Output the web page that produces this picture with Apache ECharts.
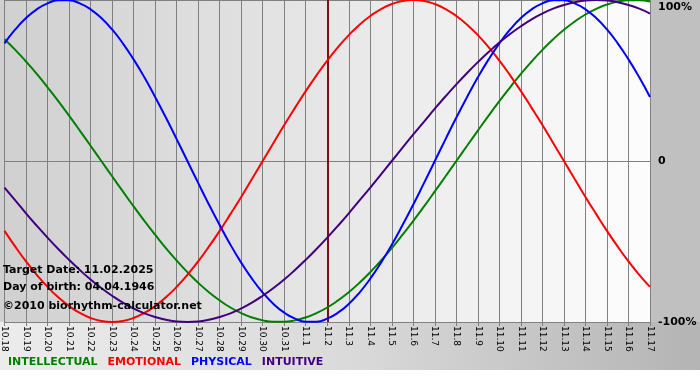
<!DOCTYPE html>
<html><head><meta charset="utf-8">
<script src="https://cdn.jsdelivr.net/npm/echarts@6/dist/echarts.min.js"></script>
<style>html,body{margin:0;padding:0;background:#fff}#c{width:700px;height:380px}</style>
</head><body><div id="c"></div>
<script>
// tick labels (one per day)
const days = ['10.18','10.19','10.20','10.21','10.22','10.23','10.24','10.25','10.26','10.27','10.28','10.29','10.30','10.31',
  '11.1','11.2','11.3','11.4','11.5','11.6','11.7','11.8','11.9','11.10','11.11','11.12','11.13','11.14','11.15','11.16','11.17'];
// curve values, in percent, read every half day from 10.18 to 11.17
const intellectual = [75.6, 69.0, 61.8, 54.1, 45.8, 37.2, 28.2, 18.9, 9.5, 0, -9.5, -18.9, -28.2, -37.2, -45.8, -54.1, -61.8, -69.0, -75.6, -81.5,
  -86.6, -91.0, -94.5, -97.2, -99.0, -99.9, -99.9, -99.0, -97.2, -94.5, -91.0, -86.6, -81.5, -75.6, -69.0, -61.8, -54.1, -45.8, -37.2, -28.2,
  -18.9, -9.5, 0, 9.5, 18.9, 28.2, 37.2, 45.8, 54.1, 61.8, 69.0, 75.6, 81.5, 86.6, 91.0, 94.5, 97.2, 99.0, 99.9, 99.9, 99.0];
const emotional = [-43.4, -53.2, -62.4, -70.7, -78.2, -84.7, -90.1, -94.4, -97.5, -99.4, -100, -99.4, -97.5, -94.4, -90.1, -84.7, -78.2, -70.7, -62.4, -53.2,
  -43.4, -33.0, -22.3, -11.2, 0, 11.2, 22.3, 33.0, 43.4, 53.2, 62.4, 70.7, 78.2, 84.7, 90.1, 94.4, 97.5, 99.4, 100, 99.4,
  97.5, 94.4, 90.1, 84.7, 78.2, 70.7, 62.4, 53.2, 43.4, 33.0, 22.3, 11.2, 0, -11.2, -22.3, -33.0, -43.4, -53.2, -62.4, -70.7, -78.2];
const physical = [73.1, 81.7, 88.8, 94.2, 97.9, 99.8, 99.8, 97.9, 94.2, 88.8, 81.7, 73.1, 63.1, 52.0, 39.8, 27.0, 13.6, 0, -13.6, -27.0,
  -39.8, -52.0, -63.1, -73.1, -81.7, -88.8, -94.2, -97.9, -99.8, -99.8, -97.9, -94.2, -88.8, -81.7, -73.1, -63.1, -52.0, -39.8, -27.0, -13.6,
  0, 13.6, 27.0, 39.8, 52.0, 63.1, 73.1, 81.7, 88.8, 94.2, 97.9, 99.8, 99.8, 97.9, 94.2, 88.8, 81.7, 73.1, 63.1, 52.0, 39.8];
const intuitive = [-16.5, -24.5, -32.5, -40.2, -47.6, -54.7, -61.4, -67.7, -73.6, -78.9, -83.7, -88.0, -91.6, -94.6, -96.9, -98.6, -99.7, -100, -99.7, -98.6,
  -96.9, -94.6, -91.6, -88.0, -83.7, -78.9, -73.6, -67.7, -61.4, -54.7, -47.6, -40.2, -32.5, -24.5, -16.5, -8.3, 0, 8.3, 16.5, 24.5,
  32.5, 40.2, 47.6, 54.7, 61.4, 67.7, 73.6, 78.9, 83.7, 88.0, 91.6, 94.6, 96.9, 98.6, 99.7, 100, 99.7, 98.6, 96.9, 94.6, 91.6];
const targetDay = '11.2';
const names = ['INTELLECTUAL','EMOTIONAL','PHYSICAL','INTUITIVE'];
const colors = ['#008000','#ff0000','#0000ff','#400080'];
const infoLines = ['Target Date: 11.02.2025','Day of birth: 04.04.1946','\u00a92010 biorhythm-calculator.net'];

const chart = echarts.init(document.getElementById('c'), null, {renderer:'canvas'});
const font = 'DejaVu Sans';
const seriesData = [intellectual, emotional, physical, intuitive];
const targetIndex = days.indexOf(targetDay);
const series = seriesData.map((d,i)=>({
  name: names[i], type:'line', data:d.map((v,j)=>[j/2, v]), smooth:true, showSymbol:false, symbol:'none',
  lineStyle:{color:colors[i], width:2}, itemStyle:{color:colors[i]}, z: 3+i,
  markLine: i===0 ? {silent:true, symbol:'none', label:{show:false}, z:2,
    lineStyle:{color:'#801010', width:2, type:'solid'}, data:[{xAxis: targetIndex}]} : undefined
}));
chart.setOption({
  animation:false,
  backgroundColor:'#ffffff',
  grid:{left:0, top:0, width:650, height:322, containLabel:false},
  graphic:[
    {type:'rect', z:-100, shape:{x:0,y:0,width:650,height:322}, style:{fill:new echarts.graphic.LinearGradient(0,0,1,0,[{offset:0,color:'#d0d0d0'},{offset:1,color:'#fdfdfd'}])}},
    {type:'rect', z:-100, shape:{x:650,y:0,width:50,height:322}, style:{fill:'#c0c0c0'}},
    {type:'rect', z:-100, shape:{x:0,y:322,width:700,height:48}, style:{fill:new echarts.graphic.LinearGradient(0,0,1,0,[{offset:0,color:'#ececec'},{offset:0.5,color:'#dadada'},{offset:1,color:'#b4b4b4'}])}},
    ...infoLines.map((t,i)=>({type:'text', z:100, left:3, top:[265,282,301][i],
      style:{text:t, fill:'#000', font:'bold 11px "DejaVu Sans"'}}))
  ],
  legend:{left:3, top:357, icon:'none', itemWidth:0, itemHeight:0, itemGap:5, padding:0,
    textStyle:{fontFamily:font, fontWeight:'bold', fontSize:11},
    data: names.map((n,i)=>({name:n, textStyle:{color:colors[i]}}))},
  xAxis:{type:'value', min:0, max:days.length-1, interval:1,
    axisLine:{show:true, onZero:false, lineStyle:{color:'#808080', width:1}},
    axisTick:{show:true, length:4, lineStyle:{color:'#808080'}},
    axisLabel:{rotate:-90, fontFamily:font, fontSize:9, color:'#000', margin:4, showMinLabel:true, showMaxLabel:true,
      formatter:(v)=> days[Math.round(v)] || ''},
    splitLine:{show:true, lineStyle:{color:'#808080', width:1}}},
  yAxis:{type:'value', position:'right', min:-100, max:100, interval:100,
    axisLine:{show:false},
    axisTick:{show:true, length:3, lineStyle:{color:'#808080'}},
    splitLine:{show:true, lineStyle:{color:'#808080', width:1}},
    axisLabel:{margin:8, fontFamily:font, fontWeight:'bold', fontSize:11, color:'#000',
      formatter:(v)=> v===100 ? '{t|100%}' : (v===0 ? '0' : '-100%'),
      rich:{t:{padding:[14,0,0,0], fontFamily:font, fontWeight:'bold', fontSize:11, color:'#000'}}}},
  series: series
});
</script></body></html>
